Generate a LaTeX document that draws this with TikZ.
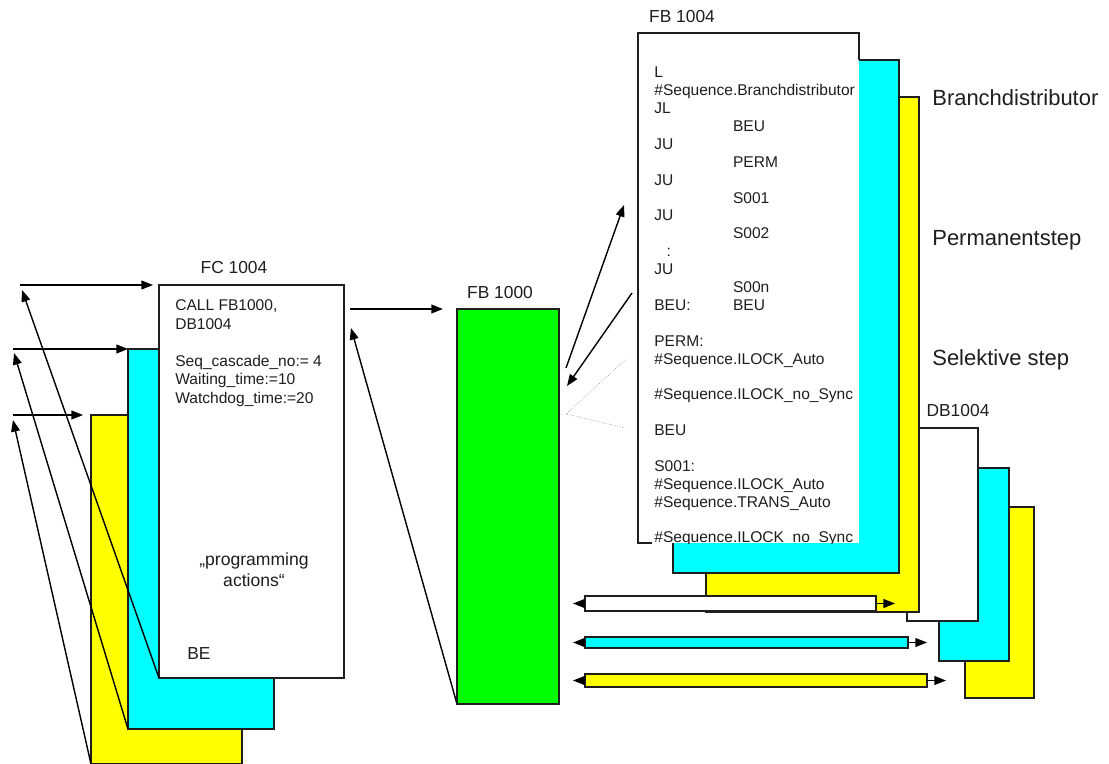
\documentclass[tikz,border=0pt]{standalone}
\usepackage{fontspec}
\setmainfont{Liberation Sans}
\usetikzlibrary{arrows.meta}
\definecolor{seqYellow}{HTML}{FFFF00}
\definecolor{seqCyan}{HTML}{00FFFF}
\definecolor{seqGreen}{HTML}{00FF00}
\definecolor{seqInk}{HTML}{1E1E1E}
\definecolor{seqDots}{HTML}{9A9A9A}
\newcommand{\seqtab}{\hspace*{44.8pt}}
\tikzset{
  seq block/.style={draw=seqInk, line width=0.7pt, inner sep=0pt, outer sep=0pt, anchor=north west},
  seq size/.style 2 args={minimum width=#1*0.02cm, minimum height=#2*0.02cm},
  seq arrow/.style={draw=black, line width=0.8pt, -{Triangle[length=6.6pt, width=5pt]}},
  seq dots/.style={draw=seqDots, line width=0.4pt, densely dotted},
  seq title/.style={font=\fontsize{9.9pt}{12pt}\selectfont, text=seqInk, inner sep=0pt},
  seq label/.style={font=\fontsize{12.5pt}{15pt}\selectfont, text=seqInk, anchor=base west, inner sep=0pt},
  seq code/.style={font=\fontsize{8.85pt}{10.18pt}\selectfont, text=seqInk, align=left, anchor=north west, inner sep=0pt},
}

\begin{document}
\begin{tikzpicture}[x=0.02cm, y=-0.02cm]
  \useasboundingbox (0,0) rectangle (1109,764);

  % FC 1004 with its two instances behind it
  \node[seq block, fill=seqYellow, seq size={151}{349}] (ye) at (91,415) {};
  \node[seq block, fill=seqCyan, seq size={146}{380}] (cy) at (128,349) {};
  \node[seq block, fill=white, seq size={185}{393}] (fc) at (159,285) {};
  \node[seq title] (fcTitle) at (234,268) {FC 1004};
  \node[seq code, font=\fontsize{8.85pt}{10.55pt}\selectfont] (fcCode) at (175,297.5)
    {\strut CALL FB1000,\\ DB1004\\ \mbox{}\\ Seq\_cascade\_no:= 4\\ Waiting\_time:=10\\ Watchdog\_time:=20};
  \node[seq title, align=center, anchor=north, font=\fontsize{10pt}{12pt}\selectfont] (fcActions) at (254,550)
    {\strut „programming\\ actions“};
  \node[seq title, anchor=base west] (fcEnd) at (187,659.5) {BE};

  % calls coming in from the left, returns going back
  \coordinate (fcTap) at (20,285);
  \coordinate (fcBack) at (22,290);
  \coordinate (cyTap) at (13,349);
  \coordinate (cyBack) at (14,353);
  \coordinate (yeTap) at (13,415);
  \coordinate (yeBack) at (13,420);
  \draw[seq arrow, shorten >=3.4pt] (fcTap) -- (fc.north west);
  \draw[seq arrow] (fc.south west) -- (fcBack);
  \draw[seq arrow] (cyTap) -- (cy.north west);
  \draw[seq arrow] (cy.south west) -- (cyBack);
  \draw[seq arrow, shorten >=4.5pt] (yeTap) -- (ye.north west);
  \draw[seq arrow] (ye.south west) -- (yeBack);

  % FB 1000
  \node[seq block, fill=seqGreen, seq size={102}{395}] (fb1000) at (457,309) {};
  \node[seq title] (fb1000Title) at (500,293) {FB 1000};
  \coordinate (fcRet) at (351,328);
  \draw[seq arrow, shorten <=3.4pt, shorten >=8pt] (fc.north east |- fb1000.north) -- (fb1000.north west);
  \draw[seq arrow] (fb1000.south west) -- (fcRet);

  % DB1004 stack
  \node[seq block, fill=seqYellow, seq size={69}{191}] (dbYe) at (965,507) {};
  \node[seq block, fill=seqCyan, seq size={70}{193}] (dbCy) at (939,468) {};
  \node[seq block, fill=white, seq size={71}{193}] (db) at (907,428) {};
  \node[seq title] (dbTitle) at (958,411) {DB1004};

  % FB 1004 stack
  \node[seq block, fill=seqYellow, seq size={213}{515}] (fbYe) at (706,97) {};
  \node[seq block, fill=seqCyan, seq size={226}{513}] (fbCy) at (673,60) {};
  \node[seq block, draw=none, fill=white, seq size={221}{510}] (fbw) at (638,33) {};
  \draw[draw=seqInk, line width=0.7pt] (fbw.south west) ++(14,0) -- (fbw.south west)
    -- (fbw.north west) -- (fbw.north east) -- (fbw.north east |- fbCy.north);
  \node[seq title] (fbTitle) at (682,17) {FB 1004};
  \begin{scope}
    \clip (fbw.south west) rectangle (fbw.north east);
    \node[seq code] (fbCode) at (654,65)
      {\strut L\\ \#Sequence.Branchdistributor\\ JL\\ \seqtab BEU\\ JU\\ \seqtab PERM\\
       JU\\ \seqtab S001\\ JU\\ \seqtab S002\\ \hspace*{7pt}:\\ JU\\ \seqtab S00n\\
       \makebox[44.8pt][l]{BEU:}BEU\\ \mbox{}\\ PERM:\\ \#Sequence.ILOCK\_Auto\\ \mbox{}\\
       \#Sequence.ILOCK\_no\_Sync\\ \mbox{}\\ BEU\\ \mbox{}\\ S001:\\ \#Sequence.ILOCK\_Auto\\
       \#Sequence.TRANS\_Auto\\ \mbox{}\\ \#Sequence.ILOCK\_no\_Sync};
  \end{scope}

  % jumps between FB 1000 and FB 1004
  \coordinate (fbUpFoot) at (566,368);
  \coordinate (fbUp) at (624,205);
  \coordinate (fbDownFoot) at (632,293);
  \coordinate (fbDown) at (567,386);
  \coordinate (dotHub) at (566,414);
  \coordinate (dotTop) at (625,360);
  \coordinate (dotLow) at (625,428);
  \draw[seq arrow] (fbUpFoot) -- (fbUp);
  \draw[seq arrow] (fbDownFoot) -- (fbDown);
  \draw[seq dots] (dotTop) -- (dotHub) -- (dotLow);

  % step labels
  \node[seq label] (lblBranch) at (932,105.5) {Branchdistributor};
  \node[seq label] (lblPerm) at (932,245.5) {Permanentstep};
  \node[seq label] (lblSel) at (932,365) {Selektive step};

  % data bars
  \foreach \i/\col/\y/\w/\h in {1/white/596/291/15, 2/seqCyan/637/323/11, 3/seqYellow/674/342/13} {
    \node[seq block, fill=\col, seq size={\w}{\h}] (bar\i) at (585,\y) {};
    \draw[seq arrow] (bar\i.west) -- ([xshift=-0.24cm]bar\i.west);
    \draw[seq arrow] (bar\i.east) -- ([xshift=0.38cm]bar\i.east);
  }
\end{tikzpicture}
\end{document}
